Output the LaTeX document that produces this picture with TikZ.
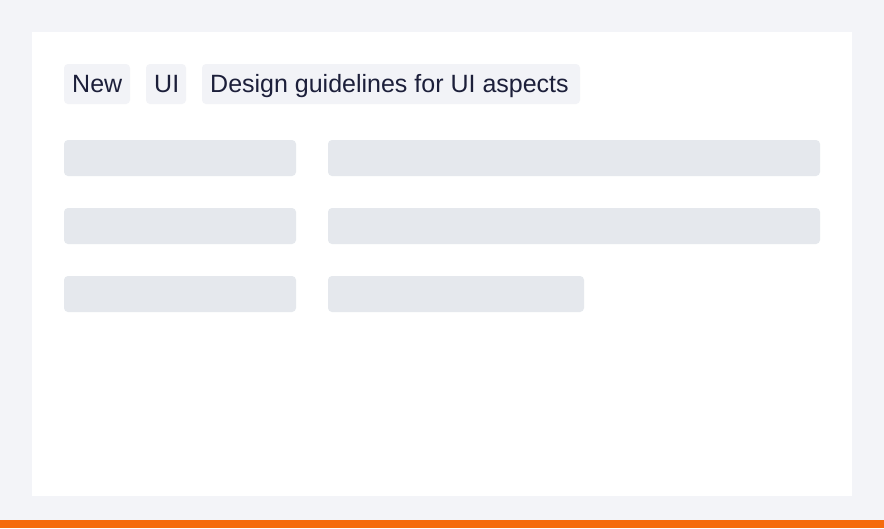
\documentclass[tikz,border=0pt]{standalone}
\usepackage{fontspec}
\setmainfont{Liberation Sans}
\definecolor{bgc}{HTML}{F3F4F8}
\definecolor{tagc}{HTML}{F2F3F7}
\definecolor{skel}{HTML}{E5E8ED}
\definecolor{ink}{HTML}{1C1F3A}
\definecolor{orng}{HTML}{F56B0C}
\tikzset{
  tagtext/.style={text=ink, font=\fontsize{25}{28}\selectfont, inner sep=0pt, anchor=base west},
  tagbg/.style={fill=tagc, rounded corners=4pt},
  skelbar/.style={fill=skel, rounded corners=4pt}
}
\begin{document}
\begin{tikzpicture}[x=1pt,y=-1pt]
\useasboundingbox (0,0) rectangle (884,528);
\fill[bgc] (0,0) rectangle (884,528);
\fill[white] (32,32) rectangle (852,496);
\fill[orng] (0,520) rectangle (884,528);
% tags
\fill[tagbg] (64,64) rectangle (130,104);
\node[tagtext] (tnew) at (72,92) {New};
\fill[tagbg] (146,64) rectangle (186,104);
\node[tagtext] (tui) at (154,92) {UI};
\fill[tagbg] (202,64) rectangle (580,104);
\node[tagtext] (tdes) at (210,92) {Design guidelines for UI aspects};
% skeleton rows
\fill[skelbar] (64,140) rectangle (296,176);
\fill[skelbar] (328,140) rectangle (820,176);
\fill[skelbar] (64,208) rectangle (296,244);
\fill[skelbar] (328,208) rectangle (820,244);
\fill[skelbar] (64,276) rectangle (296,312);
\fill[skelbar] (328,276) rectangle (584,312);
\end{tikzpicture}
\end{document}
